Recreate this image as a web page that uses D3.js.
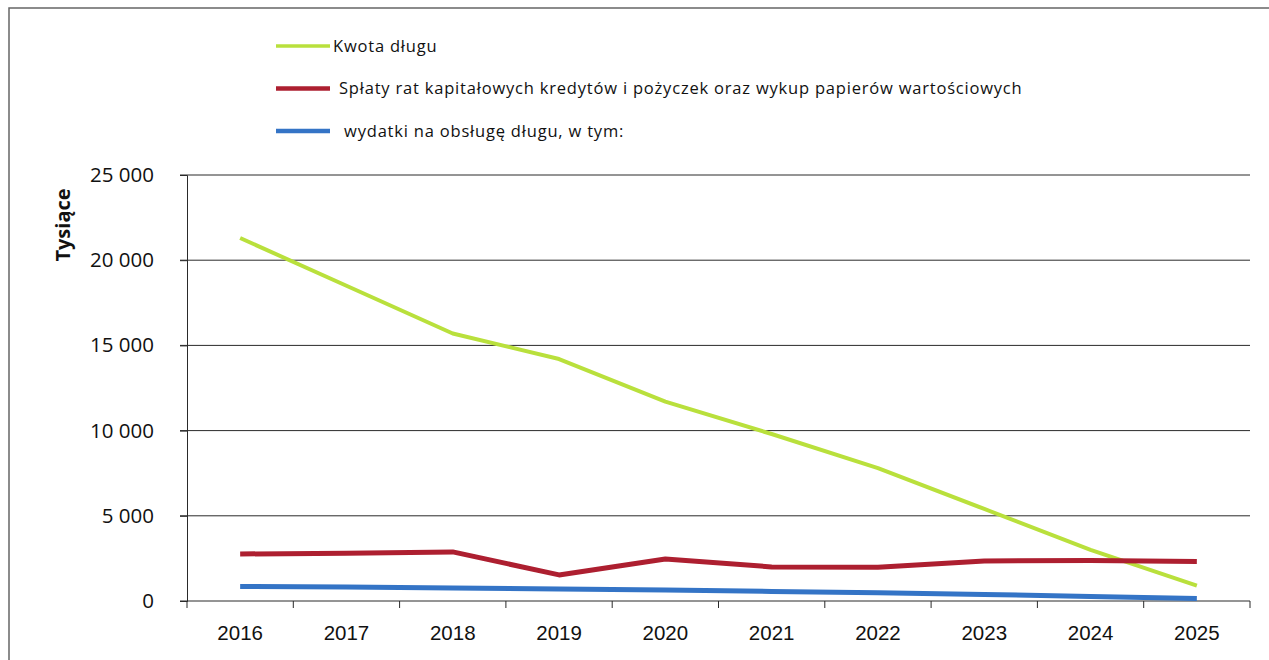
<!DOCTYPE html>
<html lang="pl">
<head>
  <meta charset="UTF-8">
  <title>Kwota długu</title>
  <script src="https://d3js.org/d3.v7.min.js"></script>
</head>
<style>
  body {
    margin: 0;
    padding: 0;
    background: #fff;
  }
  svg {
    display: block;
    font-family: "Open Sans", "Noto Sans", sans-serif;
  }
</style>
<body>
<div class="chart"></div>
<script>
  // data (thousands)
  var years = ['2016', '2017', '2018', '2019', '2020', '2021', '2022', '2023', '2024', '2025'];
  var kwotaDlugu = [21300, 18500, 15700, 14200, 11700, 9800, 7800, 5400, 3000, 900];
  var splatyRat = [2760, 2800, 2880, 1530, 2460, 2000, 1980, 2350, 2370, 2320];
  var wydatkiObsluga = [850, 820, 760, 700, 640, 560, 480, 380, 270, 150];
  var yTicks = [0, 5000, 10000, 15000, 20000, 25000];

  var seriesNames = [
    'Kwota długu',
    'Spłaty rat kapitałowych kredytów i pożyczek oraz wykup papierów wartościowych',
    ' wydatki na obsługę długu, w tym:'
  ];
  var seriesColors = ['#b9e03c', '#ad1f30', '#3474c6'];

  var width = 1269, height = 660;
  var plot = {left: 187, right: 1250, top: 175, bottom: 601};

  var svg = d3.select('.chart').append('svg')
    .attr('width', width)
    .attr('height', height);

  // outer frame of the scanned chart
  svg.append('path')
    .attr('d', 'M9,' + height + 'V8H' + width)
    .attr('fill', 'none')
    .attr('stroke', '#666')
    .attr('stroke-width', 1.5);

  var x = d3.scaleBand().domain(years).range([plot.left, plot.right]);
  var y = d3.scaleLinear().domain([0, 25000]).range([plot.bottom, plot.top]);

  var fmt = function (d) { return d3.format(',')(d).replace(/,/g, ' '); };

  /** horizontal gridlines */
  svg.append('g')
    .selectAll('line')
    .data(yTicks)
    .enter()
    .append('line')
    .attr('x1', plot.left - 7)
    .attr('x2', plot.right)
    .attr('y1', function (d) { return y(d); })
    .attr('y2', function (d) { return y(d); })
    .attr('stroke', '#2a2a2a')
    .attr('stroke-width', 1);

  /** y axis */
  var yAxis = svg.append('g')
    .attr('transform', 'translate(' + plot.left + ',0)')
    .call(d3.axisLeft(y).tickValues(yTicks).tickFormat(fmt).tickSize(7).tickPadding(26));
  yAxis.select('.domain').attr('stroke', '#2a2a2a');
  yAxis.selectAll('.tick line').attr('stroke', '#2a2a2a');
  yAxis.selectAll('text')
    .attr('font-size', 20.5)
    .attr('fill', '#111')
    .attr('font-family', '"Open Sans", sans-serif');

  /** x axis, ticks between categories */
  var xAxis = svg.append('g')
    .attr('transform', 'translate(0,' + plot.bottom + ')')
    .call(d3.axisBottom(x).tickSize(0).tickPadding(24));
  xAxis.select('.domain').remove();
  xAxis.selectAll('text')
    .attr('font-size', 20.5)
    .attr('fill', '#111');
  svg.append('g')
    .selectAll('line')
    .data(years.concat(['end']))
    .enter()
    .append('line')
    .attr('x1', function (d, i) { return plot.left + i * x.step(); })
    .attr('x2', function (d, i) { return plot.left + i * x.step(); })
    .attr('y1', plot.bottom)
    .attr('y2', plot.bottom + 7)
    .attr('stroke', '#2a2a2a');

  /** axis title */
  svg.append('text')
    .attr('transform', 'translate(70,' + 225 + ') rotate(-90)')
    .attr('text-anchor', 'middle')
    .attr('font-size', 20)
    .attr('font-weight', 'bold')
    .attr('fill', '#111')
    .text('Tysiące');

  /** series lines */
  var line = d3.line()
    .x(function (d, i) { return x(years[i]) + x.bandwidth() / 2; })
    .y(function (d) { return y(d); });

  var allSeries = [kwotaDlugu, splatyRat, wydatkiObsluga];
  var lineWidths = [4, 5, 5];

  svg.append('g')
    .selectAll('path')
    .data(allSeries)
    .enter()
    .append('path')
    .attr('d', line)
    .attr('fill', 'none')
    .attr('stroke', function (d, i) { return seriesColors[i]; })
    .attr('stroke-width', function (d, i) { return lineWidths[i]; })
    .attr('stroke-linejoin', 'round');

  /** legend */
  var legend = svg.append('g')
    .selectAll('g')
    .data(seriesNames)
    .enter()
    .append('g')
    .attr('transform', function (d, i) { return 'translate(276,' + (46 + i * 42.5) + ')'; });

  legend.append('line')
    .attr('x1', 0)
    .attr('x2', 54)
    .attr('stroke', function (d, i) { return seriesColors[i]; })
    .attr('stroke-width', function (d, i) { return [3.5, 4.5, 4.5][i]; });

  legend.append('text')
    .attr('x', function (d, i) { return [57, 63, 63][i]; })
    .attr('dy', '0.35em')
    .attr('font-size', 16.5)
    .attr('letter-spacing', 0.8)
    .attr('fill', '#111')
    .attr('xml:space', 'preserve')
    .text(function (d) { return d; });
</script>
</body>
</html>
